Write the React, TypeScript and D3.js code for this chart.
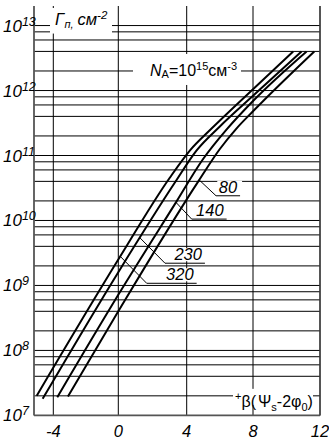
import React from 'react';
import * as d3 from 'd3';

const W = 329;
const H = 441;

// axis values
const xTicks = [-4, 0, 4, 8, 12];
const decades = [7, 8, 9, 10, 11, 12, 13];
const gridSteps = [2, 4, 6, 8, 10];

// curves: x = beta(psi_s - 2phi_0), G = surface excess, cm^-2
const temps = ['320', '230', '140', '80'];
const x320 = [-5.0, 0, 3, 4.2, 5.5, 8, 10.4];
const g320 = [2.0e7, 2.5e9, 4.5e10, 1.2e11, 2.6e11, 1.05e12, 4.0e12];
const x230 = [-4.64, 0, 3.3, 4.6, 6, 8, 10.9];
const g230 = [1.8e7, 1.6e9, 3.8e10, 1.2e11, 2.8e11, 8.3e11, 4.0e12];
const x140 = [-3.76, 0, 3.4, 5.0, 6.4, 8, 11.2];
const g140 = [1.9e7, 7.2e8, 1.95e10, 8.9e10, 2.5e11, 6.9e11, 4.0e12];
const x80 = [-3.1, 0, 4.7, 6.0, 7.0, 8, 11.66];
const g80 = [1.95e7, 4.0e8, 4.0e10, 1.26e11, 2.6e11, 4.8e11, 4.0e12];

// temperature labels: where the leader touches the curve, its elbow, underline end
const leaderG = [2.8e9, 5.4e9, 1.9e10, 4.2e10];
const elbowX = [1.66, 2.73, 4.3, 5.77];
const elbowG = [1.08e9, 2.2e9, 1.05e10, 2.4e10];
const underEndX = [4.6, 5.1, 6.41, 7.22];

const font = '"Liberation Sans Narrow", "Arial Narrow", "Liberation Sans", Arial, sans-serif';

export default function App() {
  const x = d3.scaleLinear()
    .domain([-5.16, -4, 0, 4, 8, 12])
    .range([34, 53.3, 118.3, 186.7, 253, 320]);
  const y = d3.scaleLog().domain([1e7, 2e13]).range([415.4, 6]);

  const left = x(-5.16), right = x(12), top = y(2e13), bottom = y(1e7);

  const series = [
    d3.zip(x320, g320),
    d3.zip(x230, g230),
    d3.zip(x140, g140),
    d3.zip(x80, g80),
  ] as [number, number][][];

  const line = d3.line<[number, number]>()
    .x(d => x(d[0]))
    .y(d => y(d[1]))
    .curve(d3.curveMonotoneX);

  // x on a curve at a given G (log-linear between points)
  const xAt = (pts: [number, number][], g: number) => {
    const lg = Math.log10(g);
    for (let i = 1; i < pts.length; i++) {
      const a = Math.log10(pts[i - 1][1]), b = Math.log10(pts[i][1]);
      if (lg >= a && lg <= b) {
        return pts[i - 1][0] + (pts[i][0] - pts[i - 1][0]) * (lg - a) / (b - a);
      }
    }
    return pts[0][0];
  };

  const hLines: number[] = [];
  decades.slice(0, -1).forEach(d => gridSteps.forEach(s => hLines.push(s * 10 ** d)));

  const gy13 = y(1e13);
  const gy2e12 = y(2e12);
  const axisY = y(2e7);

  return (
    <svg width={W} height={H} style={{ position: 'absolute', left: 0, top: 0, background: '#fff' }}
      fontFamily={font}>
      {/* horizontal grid */}
      {hLines.map(v => (
        <line key={v} x1={left} x2={right} y1={y(v)} y2={y(v)} stroke="#000" strokeWidth={1} />
      ))}
      {/* vertical grid */}
      {xTicks.map(t => (
        <line key={t} x1={x(t)} x2={x(t)} y1={top} y2={bottom} stroke="#000" strokeWidth={1} />
      ))}
      {/* frame */}
      <line x1={left} x2={left} y1={top} y2={bottom} stroke="#555" strokeWidth={1.8} />
      <line x1={left} x2={right} y1={bottom} y2={bottom} stroke="#555" strokeWidth={1.8} />
      <line x1={right} x2={right} y1={top} y2={bottom} stroke="#444" strokeWidth={1.4} />

      {/* masks behind titles */}
      <rect x={50} y={top + 2} width={62} height={gy13 - top + 6} fill="#fff" />
      <rect x={133} y={gy2e12 - 17} width={108} height={31} fill="#fff" />
      <rect x={233} y={axisY - 7} width={80} height={16} fill="#fff" />

      {/* masks behind temperature labels */}
      {temps.map((t, i) => {
        const ex = x(underEndX[i]);
        const uy = y(elbowG[i]);
        const w = t.length * 7.4;
        return <rect key={t} x={ex - 3 - w - 5} y={uy - 15} width={w + 10} height={13} fill="#fff" />;
      })}

      {/* curves */}
      {series.map((s, i) => (
        <path key={i} d={line(s) ?? ''} fill="none" stroke="#000" strokeWidth={2} />
      ))}

      {/* leaders */}
      {temps.map((t, i) => {
        const ax = x(xAt(series[i], leaderG[i]));
        const ay = y(leaderG[i]);
        const ex = x(elbowX[i]);
        const ey = y(elbowG[i]);
        return (
          <g key={t}>
            <polyline points={`${ax},${ay} ${ex},${ey} ${x(underEndX[i])},${ey}`} fill="none" stroke="#000" strokeWidth={1} />
            <text x={x(underEndX[i]) - 3} y={ey - 3} textAnchor="end" fontSize={16.5} fontStyle="italic">{t}</text>
          </g>
        );
      })}

      {/* y tick labels */}
      {decades.map(d => (
        <text key={d} x={3} y={y(10 ** d) + 6} fontSize={17} fontStyle="italic">
          10<tspan dy={-6} fontSize={12.5}>{d}</tspan>
        </text>
      ))}

      {/* x tick labels */}
      {xTicks.map(t => (
        <text key={t} x={x(t)} y={437} fontSize={16.5} fontStyle="italic" textAnchor="middle">{t}</text>
      ))}

      {/* y title */}
      <text x={55} y={gy13 - 1} fontSize={16.5} fontStyle="italic">
        Γ<tspan dy={3} fontSize={11}>п,</tspan><tspan dy={-3} dx={4}>см</tspan><tspan dy={-6} fontSize={11.5}>-2</tspan>
      </text>

      {/* N_A */}
      <text x={150} y={gy2e12 + 5} fontSize={16}>
        <tspan fontStyle="italic">N</tspan><tspan dy={2} fontSize={11}>A</tspan><tspan dy={-2}>=10</tspan><tspan dy={-6} fontSize={11}>15</tspan><tspan dy={6}>см</tspan><tspan dy={-6} fontSize={11}>-3</tspan>
      </text>

      {/* x title */}
      <text x={235} y={axisY + 11} fontSize={16}>
        <tspan dy={-7} fontSize={11}>+</tspan><tspan dy={7}>β(</tspan><tspan dx={2}>Ψ</tspan><tspan dy={4} fontSize={11}>s</tspan><tspan dy={-4}>-2φ</tspan><tspan dy={4} fontSize={11}>0</tspan><tspan dy={-4}>)</tspan>
      </text>
    </svg>
  );
}
